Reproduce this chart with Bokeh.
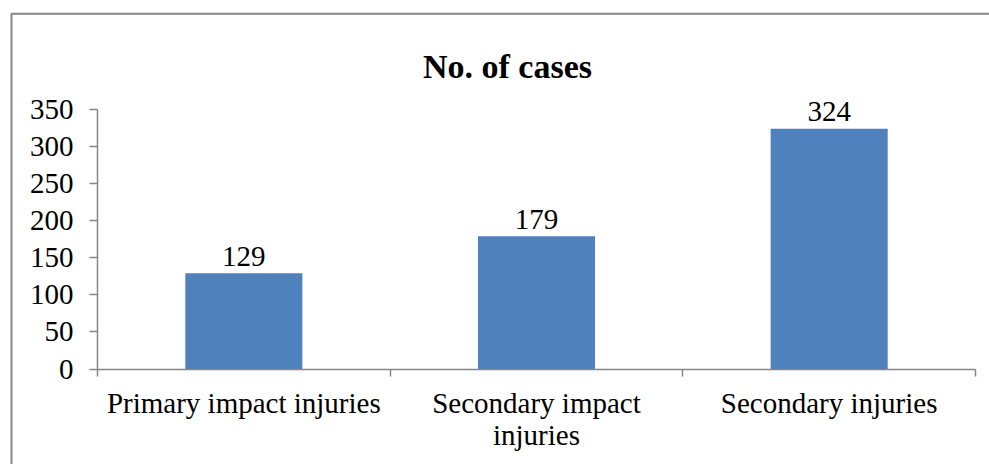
from bokeh.plotting import figure
from bokeh.models import Range1d, FixedTicker, LinearAxis, Label, ColumnDataSource
from bokeh.core.properties import value
from bokeh.embed import file_html
from bokeh.resources import INLINE

# ---- data ----
title_text = "No. of cases"
categories = ["Primary impact injuries", "Secondary impact\ninjuries", "Secondary injuries"]
cases = [129, 179, 324]
y_ticks = [0, 50, 100, 150, 200, 250, 300, 350]

FONT = '"Liberation Serif", "Times New Roman", serif'
AXIS_COLOR = "#868686"
BAR_COLOR = "#4F81BD"

W, H = 989, 464
# pixel layout of the chart (canvas coordinates)
X0_PX, X3_PX = 97.0, 975.0          # category axis start / end
Y0_PX, Y350_PX = 368.5, 109.0       # value axis 0 / 350
n = len(categories)
sx = (X3_PX - X0_PX) / n
sy = (Y0_PX - Y350_PX) / 350.0
x_start = -X0_PX / sx
x_end = x_start + W / sx
y_end = Y0_PX / sy
y_start = -(H - Y0_PX) / sy

xs = [i + 0.5 for i in range(n)]
src = ColumnDataSource(dict(x=xs, top=cases, label=[str(v) for v in cases]))

p = figure(width=W, height=H, output_backend="svg", toolbar_location=None,
           x_range=Range1d(x_start, x_end), y_range=Range1d(y_start, y_end),
           x_axis_location=None, y_axis_location=None,
           min_border=0, min_border_left=0, min_border_right=0,
           min_border_top=0, min_border_bottom=0)
p.outline_line_color = None
p.xgrid.visible = False
p.ygrid.visible = False
p.background_fill_color = "white"
p.border_fill_color = "white"

# outer chart border (only its left and top edges fall inside the picture)
bx = (11 - X0_PX) / sx
by = (Y0_PX - 13.3) / sy
p.line(x=[bx, bx, x_end + 1], y=[y_start - 10, by, by], line_color=AXIS_COLOR, line_width=2)

# bars
p.vbar(x="x", top="top", width=0.4, source=src, fill_color=BAR_COLOR, line_color=None)
p.text(x="x", y="top", text="label", source=src, text_font=value(FONT), text_font_size="29px",
       text_align="center", text_baseline="alphabetic", y_offset=-17, text_color="black")

# y axis
ya = LinearAxis(ticker=FixedTicker(ticks=y_ticks), bounds=(0, 350), fixed_location=0)
ya.axis_line_color = AXIS_COLOR
ya.axis_line_width = 1.5
ya.major_tick_line_color = AXIS_COLOR
ya.major_tick_line_width = 1.5
ya.major_tick_out = 8
ya.major_tick_in = 0
ya.minor_tick_line_color = None
ya.major_label_text_font = FONT
ya.major_label_text_font_size = "29px"
ya.major_label_text_color = "black"
ya.major_label_standoff = 16
p.add_layout(ya, "left")

# x axis: line with ticks at category boundaries
xa = LinearAxis(ticker=FixedTicker(ticks=list(range(n + 1))), bounds=(0, n), fixed_location=0)
xa.axis_line_color = AXIS_COLOR
xa.axis_line_width = 1.5
xa.major_tick_line_color = AXIS_COLOR
xa.major_tick_line_width = 1.5
xa.major_tick_out = 7
xa.major_tick_in = 0
xa.minor_tick_line_color = None
xa.major_label_overrides = {i: "" for i in range(n + 1)}
xa.major_label_text_font_size = "1px"
p.add_layout(xa, "below")

# x axis: category labels at centres
xb = LinearAxis(ticker=FixedTicker(ticks=xs), fixed_location=0)
xb.axis_line_color = None
xb.major_tick_line_color = None
xb.major_tick_out = 0
xb.major_tick_in = 0
xb.minor_tick_line_color = None
xb.major_label_overrides = {x: c for x, c in zip(xs, categories)}
xb.major_label_text_font = FONT
xb.major_label_text_font_size = "29px"
xb.major_label_text_line_height = 1.0
xb.major_label_text_color = "black"
xb.major_label_standoff = 18
p.add_layout(xb, "below")

# title
p.add_layout(Label(x=(507 - X0_PX) / sx, y=(Y0_PX - 66) / sy, text=title_text, text_font=FONT,
                   text_font_size="34px", text_font_style="bold", text_align="center",
                   text_baseline="alphabetic", text_color="black"))

open("out.html", "w").write(file_html(p, INLINE))
